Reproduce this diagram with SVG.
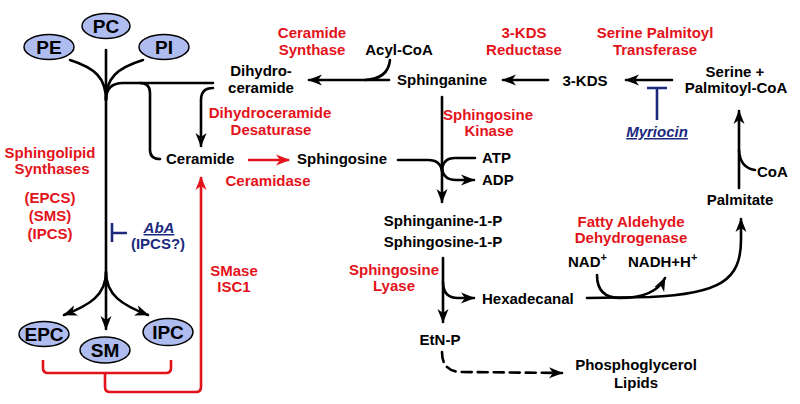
<svg xmlns="http://www.w3.org/2000/svg" width="800" height="404" viewBox="0 0 800 404">
<style>
text{font-family:"Liberation Sans",Arial,sans-serif;font-weight:bold;font-size:15px;fill:#000}
.r{fill:#e3131b}
.b{fill:#1b2a7e;font-style:italic}
.u{text-decoration:underline}
.m{text-anchor:middle}
.big{font-size:19px}
.e{fill:#aebcf0;stroke:#000;stroke-width:1.5}
.c{fill:none;stroke:#000;stroke-width:2.6;stroke-linecap:round}
.cr{fill:none;stroke:#e3131b;stroke-width:2.6}
.cb{fill:none;stroke:#1b2a7e;stroke-width:2.6}
</style>
<defs>
<marker id="ah" markerUnits="userSpaceOnUse" markerWidth="15" markerHeight="12" refX="13" refY="6" orient="auto"><path d="M0,0.5 L14,6 L0,11.5 L4,6 z" fill="#000"/></marker>
<marker id="ahr" markerUnits="userSpaceOnUse" markerWidth="15" markerHeight="12" refX="13" refY="6" orient="auto"><path d="M0,0.5 L14,6 L0,11.5 L4,6 z" fill="#e3131b"/></marker>
</defs>
<rect width="800" height="404" fill="#fff"/>
<g id="connectors">
<path class="c" d="M106,50 L106,329" marker-end="url(#ah)"/>
<path class="c" d="M70,60 C95,68 106,78 106,100"/>
<path class="c" d="M143,60 C117,68 106,78 106,100"/>
<path class="c" d="M106,100 Q106,83 123,83 L213,83"/>
<path class="c" d="M140,83 Q150,83 150,93 L150,150 Q150,159 160,159"/>
<path class="c" d="M106,272 C106,295 90,305 64,315" marker-end="url(#ah)"/>
<path class="c" d="M106,272 C106,295 122,305 148,315" marker-end="url(#ah)"/>
<path class="c" d="M213,88 Q201,88 201,100 L201,146" marker-end="url(#ah)"/>
<path class="c" d="M389,80 L309,80" marker-end="url(#ah)"/>
<path class="c" d="M390,60 Q388,79 365,80"/>
<path class="c" d="M548,80 L503,80" marker-end="url(#ah)"/>
<path class="c" d="M672,80 L626,80" marker-end="url(#ah)"/>
<path class="c" d="M739,188 L739,111" marker-end="url(#ah)"/>
<path class="c" d="M755,170 Q740,168 739,150"/>
<path class="c" d="M442,97 L442,202" marker-end="url(#ah)"/>
<path class="c" d="M398,160 L428,160 Q441,160 442,172"/>
<path class="c" d="M475,158 L455,158 Q443,158 442,170"/>
<path class="c" d="M442,166 Q442,180 456,180 L474,180" marker-end="url(#ah)"/>
<path class="c" d="M443,258 L443,322" marker-end="url(#ah)"/>
<path class="c" d="M443,282 Q443,298 458,298 L474,298" marker-end="url(#ah)"/>
<path class="c" d="M587,298 L650,297 C720,294 741,280 741,240 L741,219" marker-end="url(#ah)"/>
<path class="c" d="M597,275 Q597,298 620,298 Q655,298 665,278" marker-end="url(#ah)"/>
<path class="c" d="M442,352 Q442,372 462,372 L562,373" stroke-dasharray="10 6" marker-end="url(#ah)"/>
<path class="cr" d="M248,160 L289,160" marker-end="url(#ahr)"/>
<path class="cr" d="M43,360 L43,368 Q43,373 48,373 L166,373 Q171,373 171,368 L171,360"/>
<path class="cr" d="M105,373 L105,387 Q105,392 110,392 L196,392 Q201,392 201,387 L201,177" marker-end="url(#ahr)"/>
<path class="cb" d="M112,223 L112,242 M112,233 L127,233"/>
<path class="cb" d="M647,88 L667,88 M657,88 L657,120"/>
</g>
<g id="PE"><ellipse class="e" cx="49" cy="47" rx="25" ry="12.5"/><text class="m big" x="49" y="54">PE</text></g>
<g id="PC"><ellipse class="e" cx="106" cy="26" rx="24" ry="12.5"/><text class="m big" x="106" y="33">PC</text></g>
<g id="PI"><ellipse class="e" cx="164" cy="47" rx="25" ry="12.5"/><text class="m big" x="164" y="54">PI</text></g>
<g id="EPC"><ellipse class="e" cx="44" cy="334" rx="25" ry="12.5"/><text class="m big" x="44" y="341">EPC</text></g>
<g id="SM"><ellipse class="e" cx="105" cy="350" rx="25" ry="13"/><text class="m big" x="105" y="357">SM</text></g>
<g id="IPC"><ellipse class="e" cx="168" cy="332" rx="25" ry="13.5"/><text class="m big" x="168" y="339">IPC</text></g>
<g id="dihydroceramide"><text class="m" x="261" y="76">Dihydro-</text><text class="m" x="261" y="93">ceramide</text></g>
<g id="ceramide"><text x="166" y="164">Ceramide</text></g>
<g id="sphingosine"><text class="m" x="342" y="164">Sphingosine</text></g>
<g id="acylcoa"><text class="m" x="399" y="55">Acyl-CoA</text></g>
<g id="sphinganine"><text class="m" x="442" y="85">Sphinganine</text></g>
<g id="kds"><text class="m" x="585" y="86">3-KDS</text></g>
<g id="serine"><text class="m" x="735" y="77">Serine +</text><text class="m" x="736" y="93">Palmitoyl-CoA</text></g>
<g id="atp"><text x="482" y="163">ATP</text></g>
<g id="adp"><text x="482" y="185">ADP</text></g>
<g id="s1p"><text class="m" x="443" y="226">Sphinganine-1-P</text><text class="m" x="443" y="247">Sphingosine-1-P</text></g>
<g id="hexadecanal"><text x="482" y="304">Hexadecanal</text></g>
<g id="etnp"><text class="m" x="440" y="345">EtN-P</text></g>
<g id="palmitate"><text class="m" x="740" y="205">Palmitate</text></g>
<g id="coa"><text x="757" y="177">CoA</text></g>
<g id="nad"><text x="568" y="267">NAD<tspan dy="-6" font-size="11">+</tspan></text></g>
<g id="nadh"><text x="628" y="267">NADH+H<tspan dy="-6" font-size="11">+</tspan></text></g>
<g id="phosphoglycerol"><text class="m" x="636" y="370">Phosphoglycerol</text><text class="m" x="636" y="388">Lipids</text></g>
<g id="labels">
<text class="r m" x="312" y="38">Ceramide</text><text class="r m" x="312" y="55">Synthase</text>
<text class="r m" x="524" y="38">3-KDS</text><text class="r m" x="524" y="55">Reductase</text>
<text class="r m" x="655" y="38">Serine Palmitoyl</text><text class="r m" x="655" y="55">Transferase</text>
<text class="r m" x="270" y="118">Dihydroceramide</text><text class="r m" x="271" y="135">Desaturase</text>
<text class="r m" x="488" y="120">Sphingosine</text><text class="r m" x="489" y="136">Kinase</text>
<text class="r m" x="268" y="186">Ceramidase</text>
<text class="r m" x="50" y="158">Sphingolipid</text><text class="r m" x="52" y="174">Synthases</text>
<text class="r m" x="50" y="203">(EPCS)</text><text class="r m" x="50" y="221">(SMS)</text><text class="r m" x="50" y="239">(IPCS)</text>
<text class="r m" x="234" y="276">SMase</text><text class="r m" x="234" y="292">ISC1</text>
<text class="r m" x="394" y="275">Sphingosine</text><text class="r m" x="394" y="291">Lyase</text>
<text class="r m" x="631" y="227">Fatty Aldehyde</text><text class="r m" x="631" y="243">Dehydrogenase</text>
<text class="b u m" x="159" y="233">AbA</text><text class="b m" x="158" y="249" style="font-style:normal">(IPCS?)</text>
<text class="b u m" x="657" y="137">Myriocin</text>
</g>
</svg>
